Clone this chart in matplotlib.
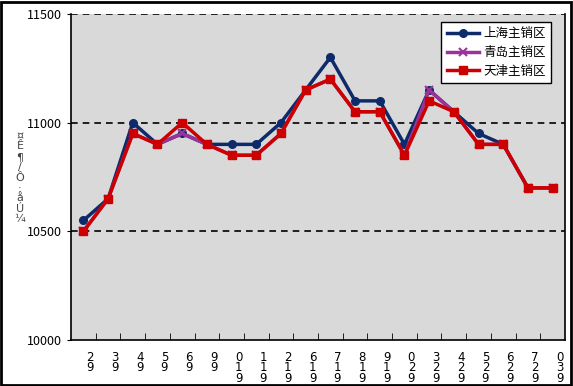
import numpy as np
import matplotlib.pyplot as plt
from matplotlib.patches import Rectangle
from matplotlib.transforms import ScaledTranslation

plt.rcParams['font.family'] = ['Noto Sans CJK SC', 'DejaVu Sans']

# data
labels = ["2\n9", "3\n9", "4\n9", "5\n9", "6\n9", "9\n9", "0\n1\n9", "1\n1\n9",
          "2\n1\n9", "6\n1\n9", "7\n1\n9", "8\n1\n9", "9\n1\n9", "0\n2\n9",
          "3\n2\n9", "4\n2\n9", "5\n2\n9", "6\n2\n9", "7\n2\n9", "0\n3\n9"]
shanghai = [10550, 10650, 11000, 10900, 10950, 10900, 10900, 10900, 11000, 11150,
            11300, 11100, 11100, 10900, 11150, 11050, 10950, 10900, 10700, 10700]
qingdao = [10500, 10650, 10950, 10900, 10950, 10900, 10850, 10850, 10950, 11150,
           11200, 11050, 11050, 10850, 11150, 11050, 10900, 10900, 10700, 10700]
tianjin = [10500, 10650, 10950, 10900, 11000, 10900, 10850, 10850, 10950, 11150,
           11200, 11050, 11050, 10850, 11100, 11050, 10900, 10900, 10700, 10700]
names = ["上海主销区", "青岛主销区", "天津主销区"]
ylabel_chars = "¤Ê¶/Ô·åÚ¼"

fig = plt.figure(figsize=(5.73, 3.86), dpi=100)
ax = fig.add_axes([0.124, 0.119, 0.862, 0.845])
ax.set_facecolor('#D9D9D9')

x = np.arange(len(labels))
ax.plot(x, shanghai, color='#0D2A6B', lw=2.5, marker='o', ms=5.5, label=names[0])
ax.plot(x, qingdao, color='#993399', lw=2.5, marker='x', ms=5.5, mew=1.5, label=names[1])
ax.plot(x, tianjin, color='#CC0000', lw=2.5, marker='s', ms=6, label=names[2])

ax.set_xlim(-0.5, len(labels) - 0.5)
ax.set_ylim(10000, 11500)
ax.set_yticks([10000, 10500, 11000, 11500])
ax.tick_params(axis='y', labelsize=9, length=3, direction='out')
for yv in [10500, 11000, 11500]:
    ax.axhline(yv, color='black', lw=1.2, ls=(0, (4, 3)), zorder=1)

ax.set_xticks(x)
ax.set_xticklabels(labels, fontsize=8.5, linespacing=0.72, family='DejaVu Sans')
ax.set_xticks(np.arange(len(labels) - 1) + 0.5, minor=True)
ax.tick_params(axis='x', which='major', length=0, pad=8)
ax.tick_params(axis='x', which='minor', length=5, direction='in')
off = ScaledTranslation(5 / 72, 0, fig.dpi_scale_trans)
for t in ax.get_xticklabels():
    t.set_transform(t.get_transform() + off)
    t.set_va('top')

ax.spines['top'].set_visible(False)
for s in ['left', 'right', 'bottom']:
    ax.spines[s].set_linewidth(1.2)

leg = ax.legend(loc='upper right', bbox_to_anchor=(0.985, 0.995), fontsize=9,
                frameon=True, fancybox=False, edgecolor='black', framealpha=1,
                handlelength=2.6, handletextpad=0.3, borderpad=0.45,
                labelspacing=0.45)
leg.get_frame().set_linewidth(1.0)

fig.text(0.035, 0.54, "\n".join(ylabel_chars), fontsize=8, color='#444444',
         ha='center', va='center', linespacing=1.05, family='DejaVu Sans')

fig.patches.append(Rectangle((0.002, 0.003), 0.995, 0.993, transform=fig.transFigure,
                             fill=False, edgecolor='black', lw=2))

fig.savefig('out.png', dpi=100)
